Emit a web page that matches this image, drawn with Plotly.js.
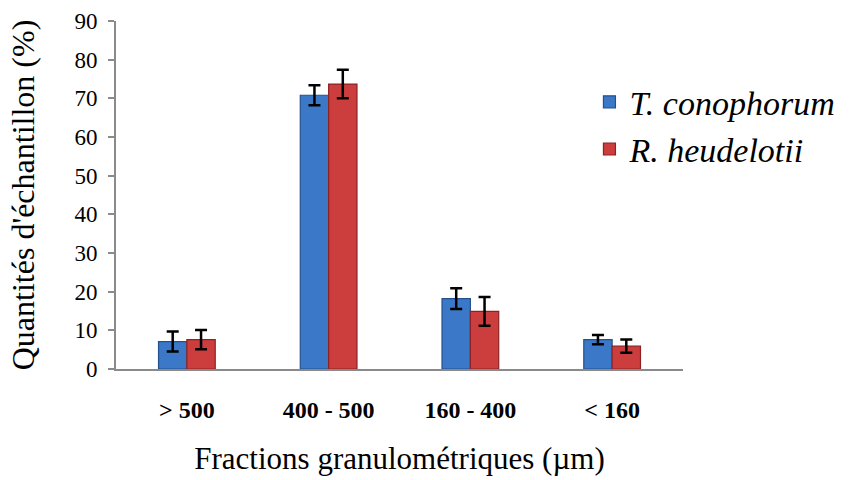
<!DOCTYPE html>
<html>
<head>
<meta charset="utf-8">
<script src="https://cdn.plot.ly/plotly-3.0.1.min.js"></script>
<style>html,body{margin:0;padding:0;background:#fff;}#chart{width:859px;height:480px;}</style>
</head>
<body>
<div id="chart"></div>
<script>
const categories = ["> 500", "400 - 500", "160 - 400", "< 160"];
const seriesNames = ["T. conophorum", "R. heudelotii"];
const tConophorum = [7.1, 70.8, 18.2, 7.6];
const tConophorumErr = [2.6, 2.6, 2.7, 1.2];
const rHeudelotii = [7.6, 73.7, 14.9, 5.9];
const rHeudelotiiErr = [2.5, 3.7, 3.7, 1.7];
const yTicks = [0, 10, 20, 30, 40, 50, 60, 70, 80, 90];

const font = "Liberation Serif";

const traces = [
  {
    type: "bar", name: seriesNames[0], x: categories, y: tConophorum,
    marker: {color: "#3b78c8", line: {color: "#23508f", width: 1.2}},
    error_y: {type: "data", array: tConophorumErr, visible: true, color: "#000", thickness: 2.5, width: 6}
  },
  {
    type: "bar", name: seriesNames[1], x: categories, y: rHeudelotii,
    marker: {color: "#cc3d3d", line: {color: "#8e2222", width: 1.2}},
    error_y: {type: "data", array: rHeudelotiiErr, visible: true, color: "#000", thickness: 2.5, width: 6}
  }
];

const layout = {
  width: 859, height: 480,
  margin: {l: 116, r: 176, t: 21, b: 111},
  paper_bgcolor: "#fff", plot_bgcolor: "rgba(0,0,0,0)",
  barmode: "group", bargap: 0.6, bargroupgap: 0,
  font: {family: font, color: "#000"},
  xaxis: {
    type: "category",
    showline: true, linecolor: "#8a8a8a", linewidth: 2,
    ticks: "", showgrid: false, zeroline: false,
    ticklabelstandoff: 18,
    tickfont: {family: font, size: 24, weight: "bold", color: "#000"},
    title: {text: "Fractions granulométriques (µm)", font: {family: font, size: 31, color: "#000"}, standoff: 26}
  },
  yaxis: {
    range: [0, 90], tickvals: yTicks, ticktext: yTicks.map(String),
    showline: true, linecolor: "#8a8a8a", linewidth: 2,
    ticks: "outside", ticklen: 6, tickcolor: "#8a8a8a", tickwidth: 2,
    showgrid: false, zeroline: false,
    ticklabelstandoff: 6,
    tickfont: {family: font, size: 23, color: "#000"},
    title: {text: "Quantités d'échantillon (%)", font: {family: font, size: 32, color: "#000"}, standoff: 30}
  },
  legend: {
    x: 0.835, y: 0.85, xanchor: "left", yanchor: "top",
    bgcolor: "rgba(0,0,0,0)",
    font: {family: font, size: 34, style: "italic", color: "#000"},
    itemwidth: 30
  },
  showlegend: true
};

Plotly.newPlot("chart", traces, layout, {displayModeBar: false, staticPlot: true});
</script>
</body>
</html>
